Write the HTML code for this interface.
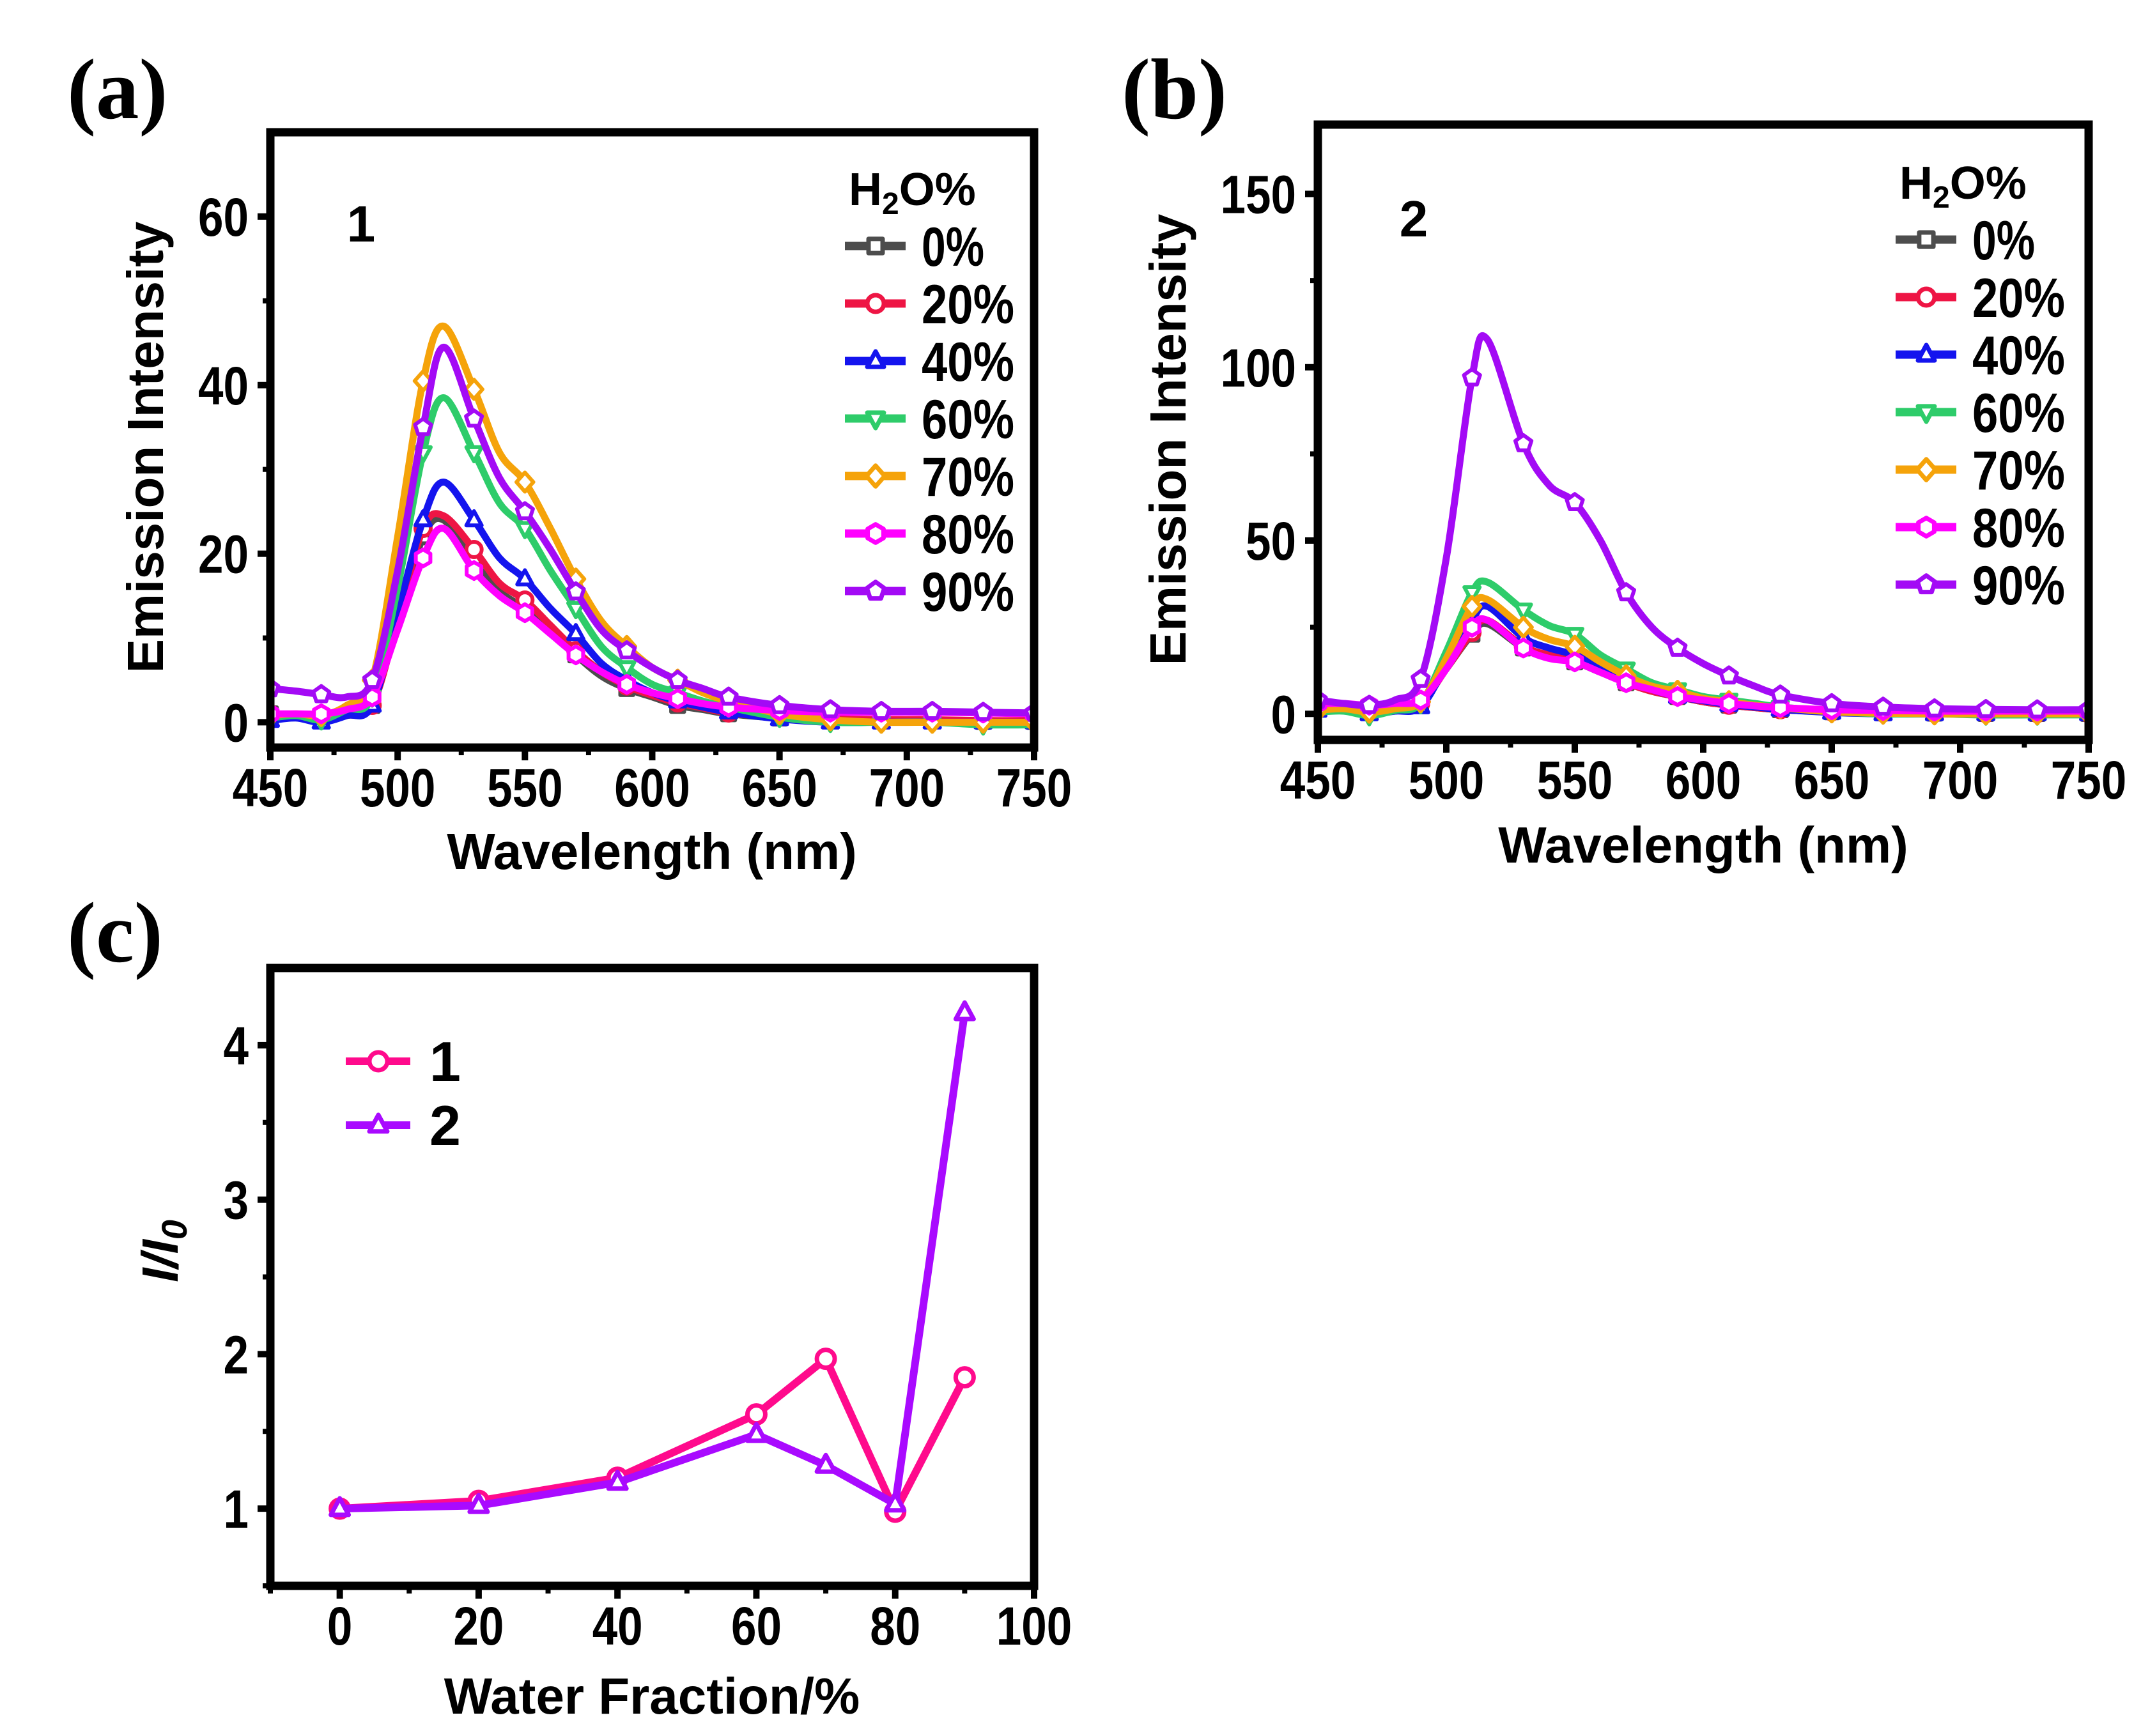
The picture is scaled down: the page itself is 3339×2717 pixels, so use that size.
<!DOCTYPE html>
<html><head><meta charset="utf-8"><style>
html,body{margin:0;padding:0;background:#fff;}
svg{display:block;font-family:"Liberation Sans",Arial,sans-serif;}
</style></head><body>
<svg id="fig" width="3339" height="2717" viewBox="0 0 3339 2717" xmlns="http://www.w3.org/2000/svg">
<text x="105" y="185" font-family="Liberation Serif, serif" font-weight="bold" font-size="135">(a)</text>
<text x="1755" y="185" font-family="Liberation Serif, serif" font-weight="bold" font-size="135">(b)</text>
<text x="105" y="1505" font-family="Liberation Serif, serif" font-weight="bold" font-size="135">(c)</text>
</svg>
<script>
// ---------- data ----------
const wlA = [450,460,470,480,490,500,510,518,530,540,550,560,570,580,590,600,610,620,630,650,670,690,710,730,750];
const a0  = [1,0.8,0.3,0.8,2,12,22,24,19,15.5,13.5,11,8,5.5,4,3,2,1.5,1,0.5,0.3,0.2,0.2,0.1,0.1];
const a20 = [1,0.8,0.3,0.8,2,12,23,24.5,20.5,16.5,14.5,11.5,8.5,6,4.3,3.2,2.3,1.7,1.1,0.6,0.4,0.3,0.3,0.2,0.2];
const a40 = [0.2,0.5,0,0.8,2,13,24,28.5,24,19.5,17,13.5,10.5,7,5,3.5,2.5,1.8,1.2,0.4,0,0,0,0,0];
const a60 = [0.5,0.8,0.3,1.5,3,16,32,38.5,32,26,23,18,13.5,9,6.5,4.5,3.5,2.5,1.8,0.6,0,0,0,-0.3,-0.3];
const a70 = [0.8,1,0.8,2,5,22,40.5,47,39.5,32,28.5,23,17,12,9,6.5,5,3.5,2.5,1,0.3,0,0,0,0];
const a80 = [1,1,1,1.5,3,11,19.5,23,18,15,13,10.5,8,6,4.5,3.5,2.8,2.2,1.8,1.4,1.2,1.2,1.2,1.1,1];
const a90 = [4,3.7,3.3,3,5,18,35,44.5,36,29,25,20.5,15.5,11,8.5,6.5,5,4,3,2,1.5,1.3,1.3,1.2,1.1];

const wlB = [450,460,470,480,490,500,510,516,530,540,550,560,570,580,590,600,610,620,630,650,670,690,710,730,750];
const b0  = [2,2,1,1.5,3,13,23,26,19,16.5,15,12,9,6.5,5,3.5,2.5,1.8,1.2,0.6,0.3,0.2,0.1,0.1,0.1];
const b20 = [2,2,1,1.5,3,13,23.5,27,19.5,17,15.5,12.5,9,6.5,5,3.5,2.5,1.8,1.2,0.6,0.3,0.2,0.1,0.1,0.1];
const b40 = [1,1,0,0.8,2,14,27,31,22,19,17,13.5,10,7,5,3.8,2.7,2,1.3,0.4,0,0,0,0,0];
const b60 = [0.5,0.8,-0.5,1,3,18,35,38,30,25.5,23,17,13,9,7,5,4,3,2,0.7,0,0,-0.3,-0.3,-0.3];
const b70 = [1,1.5,0.5,1.5,3.5,16,31,33,25,21.5,19.5,15,11,8,6.5,4.5,3.5,2.5,1.8,0.6,0.2,0,0,0,0];
const b80 = [3,3,2.5,3,4,13,25,27,19,16,15,12,9,7,5,4,3,2.3,1.8,1.2,1,0.8,0.8,0.8,0.8];
const b90 = [4,3,2.5,4,10,45,97,108,78,66,61,50,35,25,19,14.5,11,8,5.5,3,2,1.5,1.3,1.2,1.2];

const seriesNames = ["0%","20%","40%","60%","70%","80%","90%"];
const xTicksAB = [450,500,550,600,650,700,750];
const yTicksA = [0,20,40,60];
const yTicksB = [0,50,100,150];

const waterX = [0,20,40,60,70,80,90];
const ratio1 = [1,1.05,1.2,1.61,1.97,0.98,1.85];
const ratio2 = [1,1.02,1.17,1.48,1.28,1.03,4.21];
const xTicksC = [0,20,40,60,80,100];
const yTicksC = [1,2,3,4];

// ---------- styles ----------
const colors = ["#4d4d4d","#ee1544","#1414ee","#2ecc6a","#f5a30a","#ff00ff","#a30af5"];
const shapes = ["square","circle","up","down","diamond","hexagon","pentagon"];
const NS = "http://www.w3.org/2000/svg";
const svg = document.getElementById("fig");
function mk(tag, attrs, parent){const e=document.createElementNS(NS,tag);for(const k in attrs)e.setAttribute(k,attrs[k]);(parent||svg).appendChild(e);return e;}

function marker(shape,cx,cy,r,color,sw,parent){
  let el;
  if(shape==="circle"){el=mk("circle",{cx,cy,r,fill:"#fff",stroke:color,"stroke-width":sw},parent);}
  else{
    let pts=[];
    if(shape==="square"){pts=[[-1,-1],[1,-1],[1,1],[-1,1]].map(p=>[p[0]*r*0.85,p[1]*r*0.85]);}
    else if(shape==="up"){pts=[[0,-1.15],[1,0.7],[-1,0.7]].map(p=>[p[0]*r,p[1]*r]);}
    else if(shape==="down"){pts=[[0,1.15],[1,-0.7],[-1,-0.7]].map(p=>[p[0]*r,p[1]*r]);}
    else if(shape==="diamond"){pts=[[0,-1.25],[1.1,0],[0,1.25],[-1.1,0]].map(p=>[p[0]*r,p[1]*r]);}
    else {const n=shape==="hexagon"?6:5;for(let i=0;i<n;i++){const a=-Math.PI/2+i*2*Math.PI/n;pts.push([Math.cos(a)*r*1.1,Math.sin(a)*r*1.1]);}}
    el=mk("polygon",{points:pts.map(p=>(cx+p[0]).toFixed(1)+","+(cy+p[1]).toFixed(1)).join(" "),fill:"#fff",stroke:color,"stroke-width":sw,"stroke-linejoin":"round"},parent);
  }
  return el;
}
function smoothPath(pts){
  let d="M"+pts[0][0].toFixed(1)+","+pts[0][1].toFixed(1);
  for(let i=0;i<pts.length-1;i++){
    const p0=pts[i-1]||pts[i],p1=pts[i],p2=pts[i+1],p3=pts[i+2]||p2;
    const c1=[p1[0]+(p2[0]-p0[0])/6,p1[1]+(p2[1]-p0[1])/6];
    const c2=[p2[0]-(p3[0]-p1[0])/6,p2[1]-(p3[1]-p1[1])/6];
    d+=" C"+c1.map(v=>v.toFixed(1)).join(",")+" "+c2.map(v=>v.toFixed(1)).join(",")+" "+p2[0].toFixed(1)+","+p2[1].toFixed(1);
  }
  return d;
}
function numText(str,x,y,anchor,fs,parent){
  const t=mk("text",{x,y,"text-anchor":anchor,"font-size":fs,"font-weight":"bold",textLength:(str.length*fs*0.47),lengthAdjust:"spacingAndGlyphs"},parent);
  t.textContent=str;return t;
}

function drawFrame(g,L,R,T,B,xs,ys,xTicks,xMinor,yTicks,yMinor,xRange,yRange,prefix){
  xTicks.forEach(v=>{const x=xs(v);
    const tk=mk("line",{x1:x,x2:x,y1:B,y2:B+20,stroke:"#000","stroke-width":10},g);
    
    
    const t=numText(String(v),x,B+92,"middle",84,g);
    
    
  });
  xMinor.forEach(v=>{const x=xs(v);
    const tk=mk("line",{x1:x,x2:x,y1:B,y2:B+12,stroke:"#000","stroke-width":8},g);
    
    
  });
  yTicks.forEach(v=>{const y=ys(v);
    const tk=mk("line",{x1:L-20,x2:L,y1:y,y2:y,stroke:"#000","stroke-width":10},g);
    
    
    const t=numText(String(v),L-34,y+30,"end",84,g);
    
    
  });
  yMinor.forEach(v=>{const y=ys(v);
    const tk=mk("line",{x1:L-12,x2:L,y1:y,y2:y,stroke:"#000","stroke-width":8},g);
    
    
  });
  const fr=mk("rect",{x:L,y:T,width:R-L,height:B-T,fill:"none",stroke:"#000","stroke-width":13},g);
  
  
}

function spectrumPanel(prefix,L,R,T,B,yMin,yMax,wl,data,yTicks,yMinor,sampleLabel,labelPos,legX,legY0,titleX,titleY,yTitleX,yTitleY){
  const g=mk("g",{});
  
  
  const xs=v=>L+(v-450)/300*(R-L);
  const ys=v=>B-(v-yMin)/(yMax-yMin)*(B-T);
  const cid=prefix+"-clip";
  const cp=mk("clipPath",{id:cid},g);mk("rect",{x:L,y:T,width:R-L,height:B-T},cp);
  const sg=mk("g",{"clip-path":"url(#"+cid+")"},g);
  data.forEach((arr,si)=>{
    const pts=wl.map((w,i)=>[xs(w),ys(arr[i])]);
    const p=mk("path",{d:smoothPath(pts),fill:"none",stroke:colors[si],"stroke-width":11,"stroke-linejoin":"round"},sg);
    
    
    wl.forEach((w,i)=>{
      if((w-450)%20!==0) return;
      const m=marker(shapes[si],xs(w),ys(arr[i]),12,colors[si],6,sg);
      
      
    });
  });
  drawFrame(g,L,R,T,B,xs,ys,xTicksAB,[475,525,575,625,675,725],yTicks,yMinor,null,null,prefix);
  const sl=mk("text",{x:labelPos[0],y:labelPos[1],"text-anchor":"middle","font-size":80,"font-weight":"bold"},g);
  sl.textContent=sampleLabel;
  
  
  const lg=mk("g",{},g);
  
  
  const tt=mk("text",{x:legX+6,y:legY0-64,"font-size":72,"font-weight":"bold"},lg);
  tt.innerHTML='H<tspan font-size="48" dy="14">2</tspan><tspan dy="-14">O%</tspan>';
  
  
  seriesNames.forEach((n,si)=>{
    const y=legY0+si*90;
    const e=mk("g",{},lg);
    
    
    mk("line",{x1:legX,x2:legX+95,y1:y,y2:y,stroke:colors[si],"stroke-width":13},e);
    marker(shapes[si],legX+48,y,13,colors[si],7,e);
    const t=mk("text",{x:legX+120,y:y+31,"font-size":86,"font-weight":"bold",textLength:(n.length===2?98:145),lengthAdjust:"spacingAndGlyphs"},e);
    t.textContent=n;
  });
  const xt=mk("text",{x:titleX,y:titleY,"text-anchor":"middle","font-size":80,"font-weight":"bold"},g);
  xt.textContent="Wavelength (nm)";
  
  
  const yt=mk("text",{x:0,y:0,"text-anchor":"middle","font-size":80,"font-weight":"bold",transform:"translate("+yTitleX+","+yTitleY+") rotate(-90)"},g);
  yt.textContent="Emission Intensity";
  
  
}

spectrumPanel("panel-a",423,1618,207,1170,-3,70,wlA,[a0,a20,a40,a60,a70,a80,a90],yTicksA,[10,30,50],"1",[565,378],1322,385,1020,1360,255,700);
spectrumPanel("panel-b",2062,3268,195,1158,-7.5,170,wlB,[b0,b20,b40,b60,b70,b80,b90],yTicksB,[25,75,125],"2",[2212,370],2966,375,2665,1350,1855,688);

// panel c
(function(){
  const prefix="panel-c";
  const L=423,R=1618,T=1515,B=2482,xMin=-10,xMax=100,yMin=0.5,yMax=4.5;
  const g=mk("g",{});
  
  
  const xs=v=>L+(v-xMin)/(xMax-xMin)*(R-L);
  const ys=v=>B-(v-yMin)/(yMax-yMin)*(B-T);
  const cc=["#ff0a8c","#a90aff"];
  [[ratio1,"circle","1"],[ratio2,"up","2"]].forEach((s,si)=>{
    const pts=waterX.map((x,i)=>xs(x).toFixed(1)+","+ys(s[0][i]).toFixed(1)).join(" ");
    const pl=mk("polyline",{points:pts,fill:"none",stroke:cc[si],"stroke-width":12,"stroke-linejoin":"round"},g);
    
    
    waterX.forEach((x,i)=>{
      const m=marker(s[1],xs(x),ys(s[0][i]),14,cc[si],7,g);
      
      
    });
  });
  drawFrame(g,L,R,T,B,xs,ys,xTicksC,[-10,10,30,50,70,90],yTicksC,[0.5,1.5,2.5,3.5],null,null,prefix);
  const lg=mk("g",{},g);
  
  
  [["1",1661],["2",1761]].forEach((e,i)=>{
    const eg=mk("g",{},lg);
    
    
    mk("line",{x1:541,x2:642,y1:e[1],y2:e[1],stroke:cc[i],"stroke-width":12},eg);
    marker(i===0?"circle":"up",592,e[1],14,cc[i],7,eg);
    const t=mk("text",{x:672,y:e[1]+31,"font-size":88,"font-weight":"bold"},eg);
    t.textContent=e[0];
  });
  const xt=mk("text",{x:1020,y:2682,"text-anchor":"middle","font-size":80,"font-weight":"bold"},g);
  xt.textContent="Water Fraction/%";
  
  
  const yt=mk("text",{x:0,y:0,"text-anchor":"middle","font-size":80,"font-weight":"bold","font-style":"italic",transform:"translate(278,1958) rotate(-90)"},g);
  yt.innerHTML='I/I<tspan font-size="56" dy="14">0</tspan>';
  
  
})();
</script>
</body></html>
